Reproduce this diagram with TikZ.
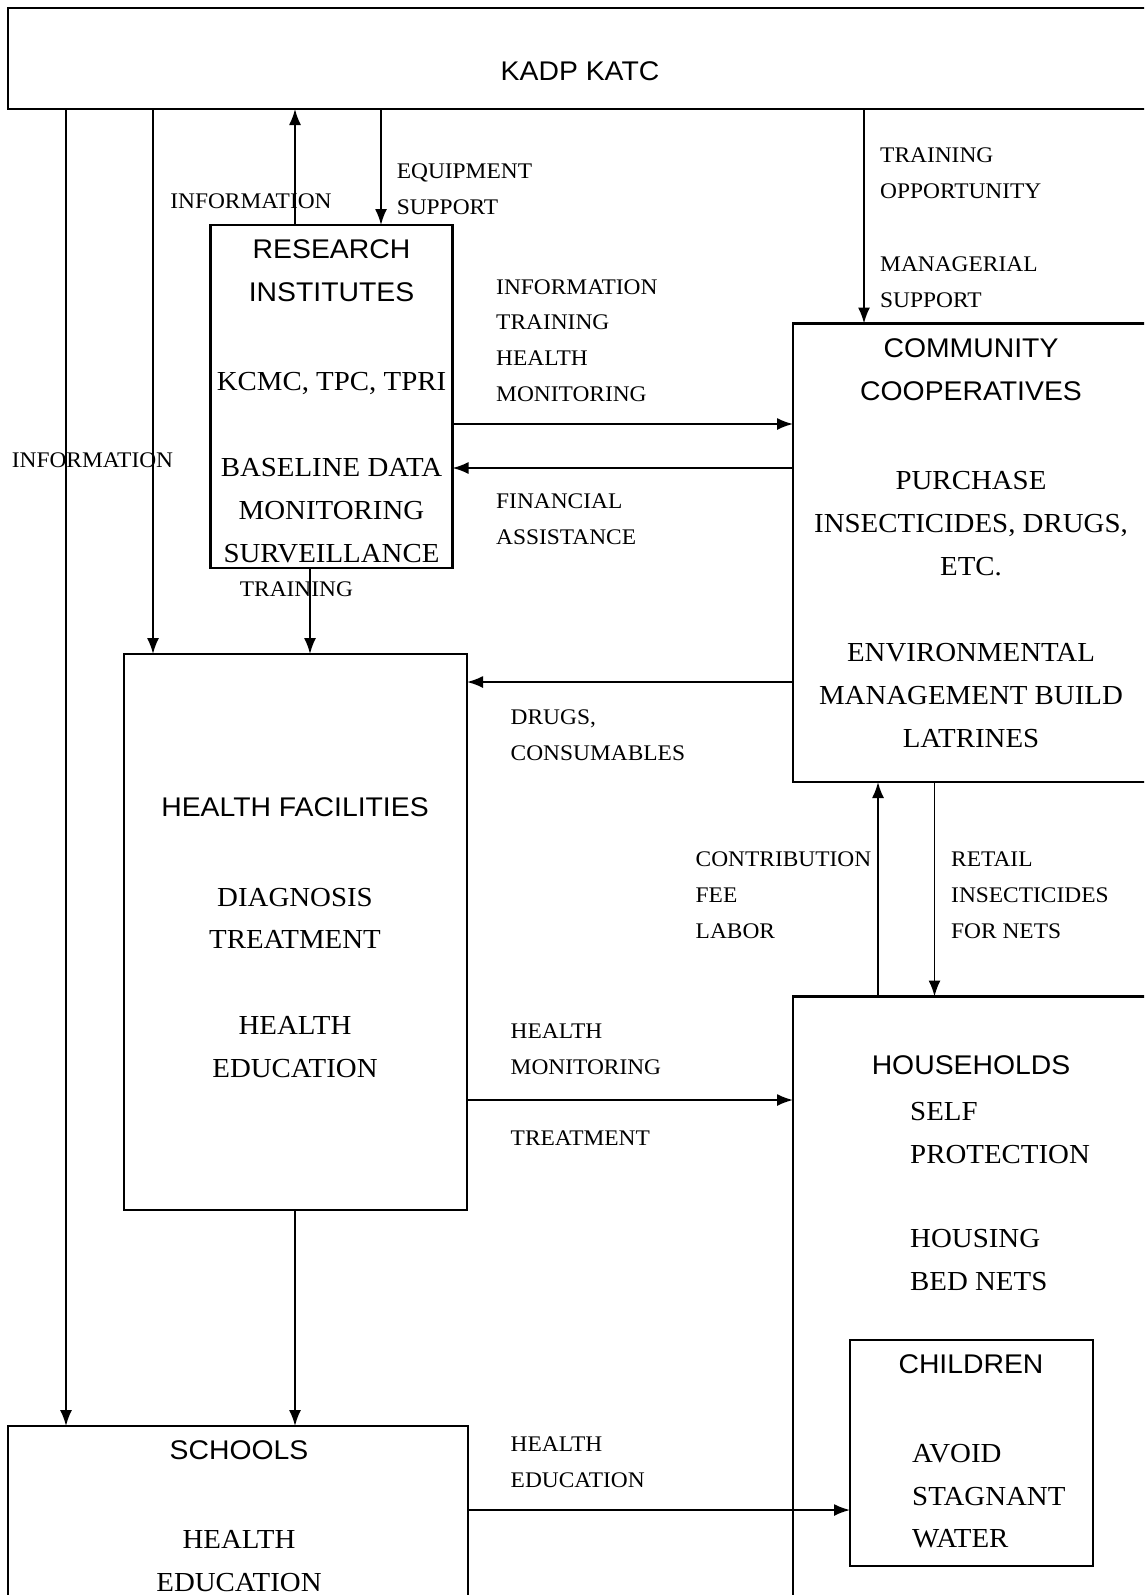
\documentclass[tikz,border=0pt]{standalone}
\usepackage{fontspec}
\setmainfont{Liberation Serif}[FakeStretch=1.05]
\newfontfamily\hsans{Liberation Sans}[FakeStretch=1.05]
\usetikzlibrary{arrows.meta}
\tikzset{
  box/.style={draw, line width=2.2pt, rectangle, anchor=north west, inner sep=0pt, outer sep=0pt},
  thinbox/.style={draw, line width=1.2pt, rectangle, anchor=north west, inner sep=0pt, outer sep=0pt},
  sanstxt/.style={font=\hsans\fontsize{27}{43}\selectfont, anchor=base, inner sep=0pt, align=center},
  bodytxt/.style={font=\fontsize{27.5}{42.7}\selectfont, anchor=base, inner sep=0pt, align=center},
  bodyleft/.style={font=\fontsize{27.5}{42.7}\selectfont, anchor=base west, inner sep=0pt, align=left},
  labtxt/.style={font=\fontsize{22.3}{35.6}\selectfont, anchor=base west, inner sep=0pt, align=left},
  labmid/.style={font=\fontsize{22.3}{35.6}\selectfont, anchor=base, inner sep=0pt, align=center},
  arr/.style={-{Latex[length=16pt,width=12pt]}, line width=1.8pt},
}
\begin{document}
\begin{tikzpicture}[x=1pt,y=-1pt]
\path[use as bounding box] (0,0) rectangle (1144,1595);
\clip (0,0) rectangle (1144,1595);
\fill[white] (0,0) rectangle (1144,1595);

% boxes
\node[box, minimum width=1150pt, minimum height=101pt] (kadp) at (8,8) {};
\node[box, minimum width=242pt, minimum height=343pt] (research) at (210.5,225) {};
\node[box, minimum width=362pt, minimum height=458.5pt] (community) at (793,323.5) {};
\node[box, minimum width=343pt, minimum height=556pt] (health) at (124,654) {};
\node[box, minimum width=362pt, minimum height=640pt] (households) at (793,996.5) {};
\node[box, minimum width=460pt, minimum height=200pt] (schools) at (8,1426) {};
\node[thinbox, minimum width=243pt, minimum height=226pt] (children) at (850,1340) {};

% box texts (y = baseline of the last line)
\node[sanstxt] (tkadp) at (580,80.7) {KADP KATC};
\node[sanstxt] (tres) at (331.5,301.7) {RESEARCH\\INSTITUTES};
\node[bodytxt] (tkcmc) at (331.5,390) {KCMC, TPC, TPRI};
\node[bodytxt] (tbase) at (331.5,562) {BASELINE DATA\\MONITORING\\SURVEILLANCE};
\node[sanstxt] (tcom) at (971,400.2) {COMMUNITY\\COOPERATIVES};
\node[bodytxt] (tpur) at (971,575) {PURCHASE\\INSECTICIDES, DRUGS,\\ETC.};
\node[bodytxt] (tenv) at (971,747) {ENVIRONMENTAL\\MANAGEMENT BUILD\\LATRINES};
\node[sanstxt] (thf) at (295,816.7) {HEALTH FACILITIES};
\node[bodytxt] (tdiag) at (295,948.7) {DIAGNOSIS\\TREATMENT};
\node[bodytxt] (thed) at (295,1077) {HEALTH\\EDUCATION};
\node[sanstxt] (thh) at (971,1074.7) {HOUSEHOLDS};
\node[bodyleft] (tself) at (910,1163) {SELF\\PROTECTION};
\node[bodyleft] (thous) at (910,1290) {HOUSING\\BED NETS};
\node[sanstxt] (tsch) at (239,1459.7) {SCHOOLS};
\node[bodytxt] (tsched) at (239,1591) {HEALTH\\EDUCATION};
\node[sanstxt] (tchi) at (971,1373.7) {CHILDREN};
\node[bodyleft] (tavoid) at (912,1547.7) {AVOID\\STAGNANT\\WATER};

% column / row coordinates
\coordinate (c66) at (66,0);
\coordinate (c153) at (153,0);
\coordinate (c295) at (295,0);
\coordinate (c310) at (310,0);
\coordinate (c381) at (381,0);
\coordinate (c864) at (864,0);
\coordinate (c878) at (878,0);
\coordinate (c934) at (934.5,0);
\coordinate (r424) at (0,424);
\coordinate (r468) at (0,468);
\coordinate (r682) at (0,682);
\coordinate (r1100) at (0,1100);
\coordinate (r1510) at (0,1510);

% connectors
\draw[arr] (kadp.south -| c66) -- (schools.north -| c66);
\draw[arr] (kadp.south -| c153) -- (health.north -| c153);
\draw[arr] (research.north -| c295) -- (kadp.south -| c295);
\draw[arr] (kadp.south -| c381) -- (research.north -| c381);
\draw[arr] (kadp.south -| c864) -- (community.north -| c864);
\draw[arr] (research.east |- r424) -- (community.west |- r424);
\draw[arr] (community.west |- r468) -- (research.east |- r468);
\draw[arr] (research.south -| c310) -- (health.north -| c310);
\draw[arr] (community.west |- r682) -- (health.east |- r682);
\draw[arr] (households.north -| c878) -- (community.south -| c878);
\draw[arr] (community.south -| c934) -- (households.north -| c934);
\draw[arr] (health.east |- r1100) -- (households.west |- r1100);
\draw[arr] (health.south -| c295) -- (schools.north -| c295);
\draw[arr] (schools.east |- r1510) -- (children.west |- r1510);

% connector labels (y = baseline of the last line)
\node[labmid] (linfo1) at (251,208.4) {INFORMATION};
\node[labtxt] (lequip) at (396.6,214.4) {EQUIPMENT\\SUPPORT};
\node[labtxt] (linfo2) at (496,401) {INFORMATION\\TRAINING\\HEALTH\\MONITORING};
\node[labtxt] (lfin) at (496,544.4) {FINANCIAL\\ASSISTANCE};
\node[labtxt] (ltrop) at (880,198.4) {TRAINING\\OPPORTUNITY};
\node[labtxt] (lman) at (880,307.4) {MANAGERIAL\\SUPPORT};
\node[labmid] (linfo3) at (92.5,467) {INFORMATION};
\node[labmid] (ltrain) at (296.4,596.4) {TRAINING};
\node[labtxt] (ldrugs) at (510.5,760) {DRUGS,\\CONSUMABLES};
\node[labtxt] (lcontr) at (695.5,938) {CONTRIBUTION\\FEE\\LABOR};
\node[labtxt] (lretail) at (951,938) {RETAIL\\INSECTICIDES\\FOR NETS};
\node[labtxt] (lhm) at (510.5,1074.4) {HEALTH\\MONITORING};
\node[labtxt] (ltreat) at (510.5,1145.4) {TREATMENT};
\node[labtxt] (lhe) at (510.5,1487.4) {HEALTH\\EDUCATION};
\end{tikzpicture}
\end{document}
